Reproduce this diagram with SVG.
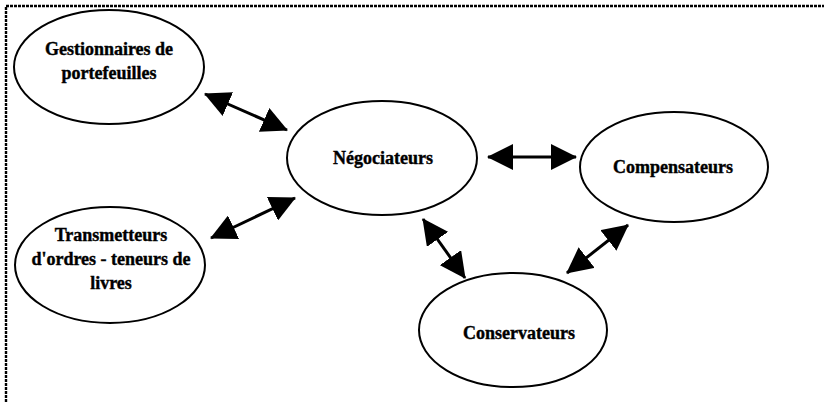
<svg xmlns="http://www.w3.org/2000/svg" width="824" height="402" viewBox="0 0 824 402">
  <style>
    .node ellipse { fill: #ffffff; stroke: #000000; stroke-width: 2; }
    .node text { font-family: "Liberation Serif", "Times New Roman", serif; font-weight: bold; font-size: 18px; fill: #000000; text-anchor: middle; dominant-baseline: central; stroke: #000000; stroke-width: 0.4; }
    .frame { stroke: #000000; stroke-width: 2.4; stroke-dasharray: 3 1; fill: none; }
    #connectors line { stroke: #000000; stroke-width: 3; marker-start: url(#head); marker-end: url(#head); }
  </style>
  <defs>
    <marker id="head" viewBox="0 0 26 26" refX="25" refY="13" markerWidth="26" markerHeight="26" markerUnits="userSpaceOnUse" orient="auto-start-reverse">
      <path d="M0,0 L26,13 L0,26 Z" fill="#000000"/>
    </marker>
  </defs>
  <rect width="824" height="402" fill="#ffffff"/>

  <!-- open frame: top and left edges only -->
  <path class="frame" d="M6,402 V6 H824"/>

  <g id="connectors">
    <line x1="205" y1="94" x2="287" y2="130"/>
    <line x1="211" y1="238" x2="295" y2="198"/>
    <line x1="488" y1="157" x2="576" y2="157"/>
    <line x1="423" y1="219" x2="465" y2="278"/>
    <line x1="628" y1="225" x2="567" y2="273"/>
  </g>

  <g id="gestionnaires" class="node">
    <ellipse cx="109" cy="67" rx="95" ry="57"/>
    <text x="109" y="49">Gestionnaires de</text>
    <text x="109" y="73">portefeuilles</text>
  </g>

  <g id="transmetteurs" class="node">
    <ellipse cx="110" cy="265" rx="95" ry="58"/>
    <text x="111" y="235">Transmetteurs</text>
    <text x="111" y="259">d'ordres - teneurs de</text>
    <text x="111" y="283">livres</text>
  </g>

  <g id="negociateurs" class="node">
    <ellipse cx="382" cy="158" rx="95" ry="57"/>
    <text x="383" y="158">Négociateurs</text>
  </g>

  <g id="compensateurs" class="node">
    <ellipse cx="674" cy="167" rx="94" ry="55"/>
    <text x="673" y="167">Compensateurs</text>
  </g>

  <g id="conservateurs" class="node">
    <ellipse cx="513" cy="330" rx="94" ry="57"/>
    <text x="519" y="333">Conservateurs</text>
  </g>
</svg>
